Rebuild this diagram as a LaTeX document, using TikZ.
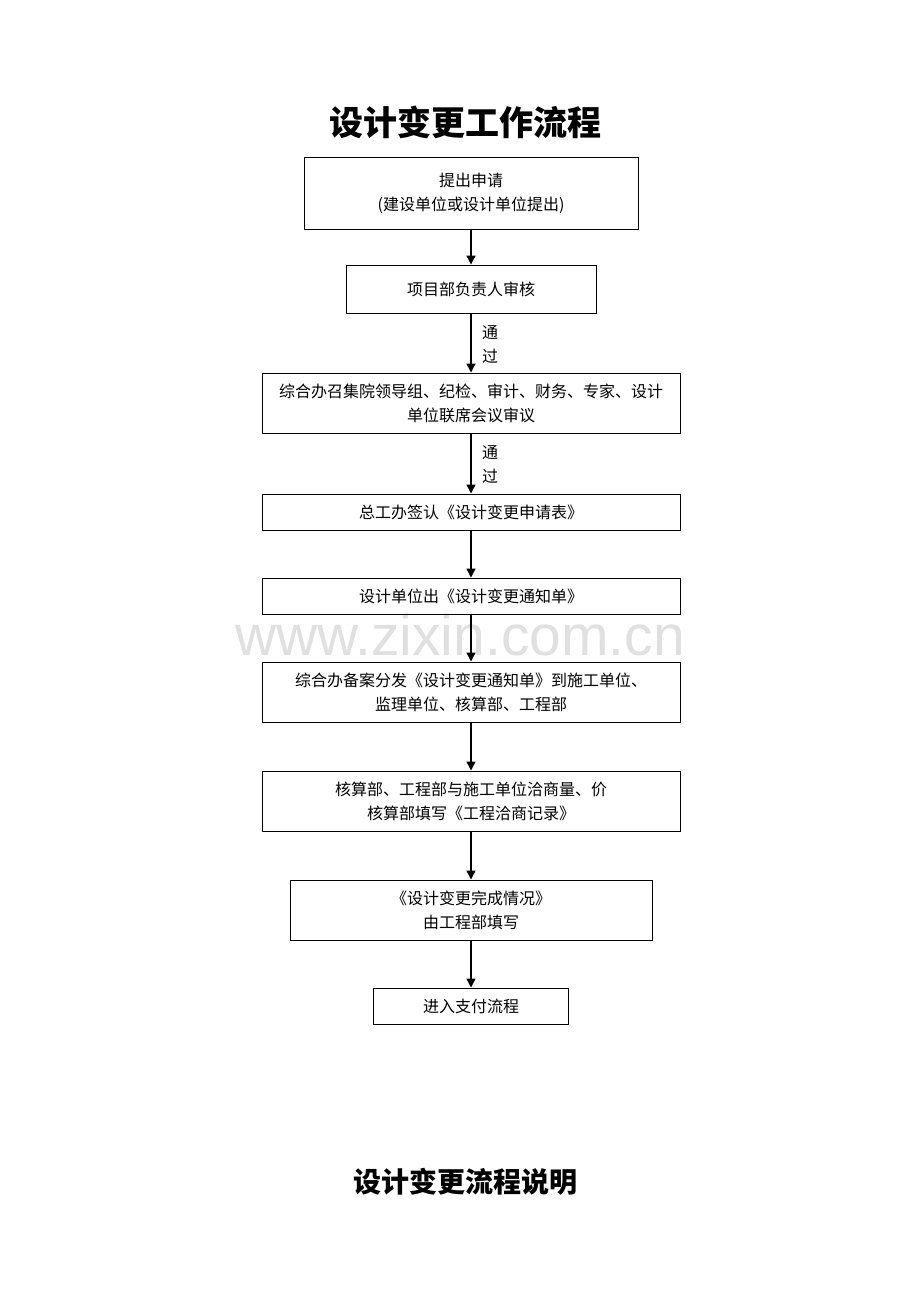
\documentclass[tikz,border=0pt]{standalone}
\usepackage{fontspec}
\setmainfont{Noto Sans CJK SC}
\newfontfamily\wmfont{Liberation Sans}
\usetikzlibrary{arrows.meta,positioning}

\tikzset{
  stepbox/.style={draw, line width=1pt, inner sep=0pt, align=center,
    font=\fontsize{16}{24}\selectfont},
  flow/.style={line width=1.3pt, -{Triangle[length=9pt,width=9pt]}},
  passlabel/.style={anchor=west, align=center, inner sep=0pt,
    font=\fontsize{16}{24}\selectfont}
}

\begin{document}
\begin{tikzpicture}[x=1pt,y=-1pt]
\useasboundingbox[fill=white] (0,0) rectangle (920,1302);

% watermark
\node[text=black!12, font=\wmfont\fontsize{57}{60}\selectfont] (mark) at (460,635) {www.zixin.com.cn};

% title
\node[font=\bfseries\fontsize{34}{40}\selectfont] (title) at (465,122) {设计变更工作流程};

% steps
\node[stepbox, minimum width=334pt, minimum height=72pt] (apply) at (471,193) {提出申请\\(建设单位或设计单位提出)};
\node[stepbox, minimum width=250pt, minimum height=48pt] (review) at (471,289) {项目部负责人审核};
\node[stepbox, minimum width=418pt, minimum height=60pt] (meeting) at (471,403) {综合办召集院领导组、纪检、审计、财务、专家、设计\\单位联席会议审议};
\node[stepbox, minimum width=418pt, minimum height=36pt] (sign) at (471,512) {总工办签认《设计变更申请表》};
\node[stepbox, minimum width=418pt, minimum height=36pt] (notice) at (471,596) {设计单位出《设计变更通知单》};
\node[stepbox, minimum width=418pt, minimum height=60pt] (issue) at (471,692) {综合办备案分发《设计变更通知单》到施工单位、\\监理单位、核算部、工程部};
\node[stepbox, minimum width=418pt, minimum height=60pt] (price) at (471,801) {核算部、工程部与施工单位洽商量、价\\核算部填写《工程洽商记录》};
\node[stepbox, minimum width=362pt, minimum height=60pt] (done) at (471,910) {《设计变更完成情况》\\由工程部填写};
\node[stepbox, minimum width=195pt, minimum height=36pt] (pay) at (471,1006) {进入支付流程};

% connectors
\draw[flow] (apply) -- (review);
\draw[flow] (review) -- (meeting);
\draw[flow] (meeting) -- (sign);
\draw[flow] (sign) -- (notice);
\draw[flow] (notice) -- (issue);
\draw[flow] (issue) -- (price);
\draw[flow] (price) -- (done);
\draw[flow] (done) -- (pay);

\node[passlabel] (pass1) at (482,344) {通\\过};
\node[passlabel] (pass2) at (482,464) {通\\过};

% subtitle
\node[font=\bfseries\fontsize{28}{34}\selectfont] (subtitle) at (465,1182) {设计变更流程说明};
\end{tikzpicture}
\end{document}
